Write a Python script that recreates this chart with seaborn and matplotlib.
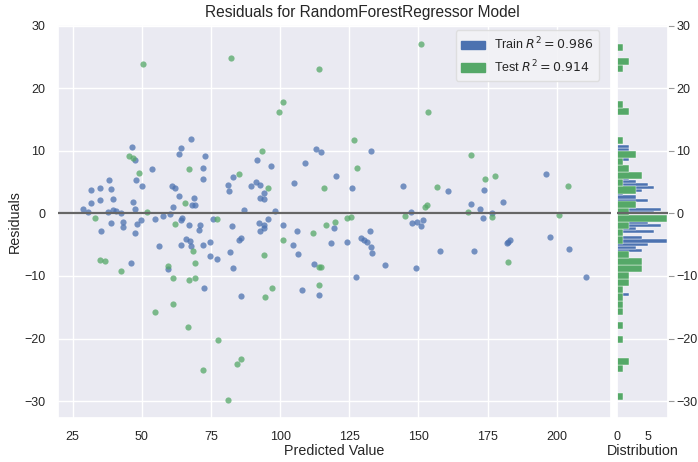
import matplotlib
matplotlib.use("Agg")
import matplotlib.pyplot as plt
import matplotlib.patches as mpatches
import seaborn as sns
import numpy as np

# ---- data ----
train_pred = [46.5, 47.4, 47.9, 49.9, 53.7, 38.0, 34.7, 31.5, 39.0, 31.5, 34.7, 39.5, 28.9, 30.6,
              37.8, 39.5, 40.7, 42.6, 46.7, 47.7, 39.0, 43.1, 43.1, 48.1, 49.6, 54.9, 57.5, 60.2,
              64.3, 64.7, 66.9, 71.0, 70.8, 61.1, 63.5, 68.3, 69.3, 68.8, 60.9, 62.1, 63.3, 64.3,
              67.6, 72.9, 72.2, 72.2, 75.6, 81.1, 81.4, 82.8, 86.9, 82.6,
              35.4, 47.7, 85.0, 86.0, 56.3, 64.0, 66.0, 67.4, 67.6, 72.2, 74.8, 81.8, 74.8, 77.3,
              82.8, 46.2, 72.4, 85.7, 59.6,
              91.6, 96.6, 89.4, 91.1, 92.6, 94.2, 92.8, 94.0, 98.3, 113.0, 114.7, 109.1, 105.0,
              120.2, 132.7, 126.0, 144.5, 147.4, 92.3, 94.2, 94.2, 95.7, 92.8, 101.2, 147.6,
              149.6, 151.7, 151.0,
              106.0, 104.6, 106.5, 112.3, 108.0, 114.0, 119.5, 118.3, 124.3, 127.4, 129.1, 130.3,
              131.5, 132.5, 132.7, 133.2, 137.8, 149.1,
              196.2, 160.5, 173.8, 180.5, 169.0, 172.3, 176.6, 173.5, 157.9, 170.2, 182.4, 183.0,
              182.0, 197.6, 204.3, 210.6]
train_resid = [10.6, 8.6, 5.3, 4.3, 7.1, 5.3, 4.0, 3.7, 3.9, 1.6, 2.2, 2.3, 0.7, 0.2,
               0.2, 0.6, 0.4, 0.1, 1.9, 0.7, -1.6, -1.3, -2.2, -1.7, -1.1, -0.9, -0.4, -0.1,
               -1.1, -0.8, -1.9, -1.9, -2.7, 1.1, 2.7, 1.3, 1.3, 2.4, 4.3, 4.0, 9.5, 10.5,
               11.9, 9.1, 7.3, 5.5, -0.9, 4.5, 3.5, 5.8, 0.5, -2.0,
               -2.8, -3.1, -4.2, -4.0, -5.2, -5.1, -4.1, -4.4, -5.2, -5.1, -4.6, -6.1, -6.8, -7.3,
               -8.7, -7.9, -11.9, -13.2, -8.9,
               8.6, 7.6, 4.4, 5.0, 4.5, 3.3, 2.4, 2.3, 0.4, 10.3, 9.8, 8.1, 4.8,
               5.9, 10.0, 4.1, 4.4, 0.3, -1.5, -1.8, -2.4, -0.9, -2.8, -1.9, -1.6,
               -1.3, -1.1, -2.0,
               -2.8, -5.1, -6.5, -8.1, -12.3, -13.0, -2.4, -4.8, -4.5, -10.1, -4.0, -4.2,
               -4.5, -2.8, -5.3, -6.4, -8.3, -8.7,
               6.3, 3.5, 3.8, 1.9, 1.5, 0.7, 0.0, -0.7, -6.0, -6.0, -4.5, -4.2,
               -4.7, -3.8, -5.7, -10.2]

test_pred = [50.4, 82.2, 114.2, 150.8, 99.5, 101.0, 153.4, 93.5, 126.7, 45.5, 46.7, 48.9, 66.9,
             85.2, 95.7, 115.9, 127.7, 169.0, 174.0, 177.6, 203.9, 156.7, 65.7, 51.9, 33.0, 61.9,
             77.3, 152.5, 153.2, 168.0, 176.4, 200.7, 145.3, 116.6, 120.0, 124.1, 125.7, 111.8,
             101.0, 94.0, 114.0, 114.6, 97.1, 94.5, 114.0, 68.6, 69.1, 34.9, 36.8, 42.6, 59.4,
             61.1, 66.9, 69.1, 61.1, 54.9, 66.8, 77.4, 72.1, 86.0, 84.4, 81.0, 182.4]
test_resid = [23.9, 24.8, 23.1, 27.1, 16.2, 17.8, 16.2, 9.9, 11.8, 9.2, 8.8, 6.5, 7.1,
              6.3, 4.0, 4.1, 7.3, 9.4, 5.5, 5.9, 4.3, 4.2, 1.6, 0.2, -0.7, -1.7,
              -0.9, 1.1, 1.4, 0.2, -0.5, -0.3, -0.4, -1.8, -1.3, -0.7, -0.6, -3.1,
              -4.2, -6.7, -8.5, -8.6, -12.0, -13.4, -11.4, -6.0, -7.9, -7.4, -7.6, -9.2, -8.4,
              -10.4, -10.7, -10.3, -14.4, -15.7, -18.2, -20.2, -25.0, -23.2, -24.0, -29.9, -7.7]

train_label = "Train $R^2 = 0.986$"
test_label = "Test $R^2 = 0.914$"
x_ticks = [25, 50, 75, 100, 125, 150, 175, 200]
y_ticks = [-30, -20, -10, 0, 10, 20, 30]

TRAIN_COLOR = "#4C72B0"
TEST_COLOR = "#55A868"
LINE_COLOR = "#666666"

sns.set_theme(style="darkgrid")
plt.rcParams["font.family"] = ["Liberation Sans", "DejaVu Sans"]

fig = plt.figure(figsize=(6.98, 4.62), dpi=100)
ax = fig.add_axes([0.0831, 0.0952, 0.7923, 0.8506])
hax = fig.add_axes([0.8840, 0.0952, 0.0731, 0.8506], sharey=ax)

# scatter
sns.scatterplot(x=train_pred, y=train_resid, ax=ax, color=TRAIN_COLOR, alpha=0.75,
                s=20, linewidth=0)
sns.scatterplot(x=test_pred, y=test_resid, ax=ax, color=TEST_COLOR, alpha=0.75,
                s=20, linewidth=0)
ax.axhline(0, color=LINE_COLOR, lw=1.6, zorder=3)

ax.set_xlim(19.7, 219.6)
ax.set_ylim(-32.7, 30.1)
ax.set_xticks(x_ticks)
ax.set_yticks(y_ticks)
ax.tick_params(labelsize=9, pad=3)
ax.set_title("Residuals for RandomForestRegressor Model", fontsize=11.2, pad=6, x=0.551)
ax.set_xlabel("Predicted Value", fontsize=10.3, labelpad=1)
ax.set_ylabel("Residuals", fontsize=10.3, labelpad=2)

handles = [mpatches.Patch(color=TRAIN_COLOR, label=train_label),
           mpatches.Patch(color=TEST_COLOR, label=test_label)]
ax.legend(handles=handles, loc="upper right", fontsize=9, frameon=True,
          facecolor="#F2F2F6", edgecolor="#DDDDDD", framealpha=0.9,
          handlelength=1.9, handletextpad=0.7, borderpad=0.45,
          bbox_to_anchor=(0.99, 1.003))

# histograms
sns.histplot(y=train_resid, bins=50, ax=hax, color=TRAIN_COLOR, alpha=1,
             edgecolor="white", linewidth=0.3)
sns.histplot(y=test_resid, bins=50, ax=hax, color=TEST_COLOR, alpha=1,
             edgecolor="white", linewidth=0.3)
hax.axhline(0, color=LINE_COLOR, lw=1.6, zorder=3)
hax.set_xlim(0, 8.2)
hax.set_xticks([0, 5])
hax.yaxis.tick_right()
hax.grid(False, axis="x")
hax.set_ylabel("")
hax.set_xlabel("Distribution", fontsize=10.3, labelpad=1)
hax.tick_params(axis="y", labelsize=9, length=4, color="#999999", width=0.8,
                labelright=True, labelleft=False, pad=2)
hax.tick_params(axis="x", labelsize=9, pad=3)
hax.set_ylim(-32.7, 30.1)

fig.savefig("out.png", dpi=100)
